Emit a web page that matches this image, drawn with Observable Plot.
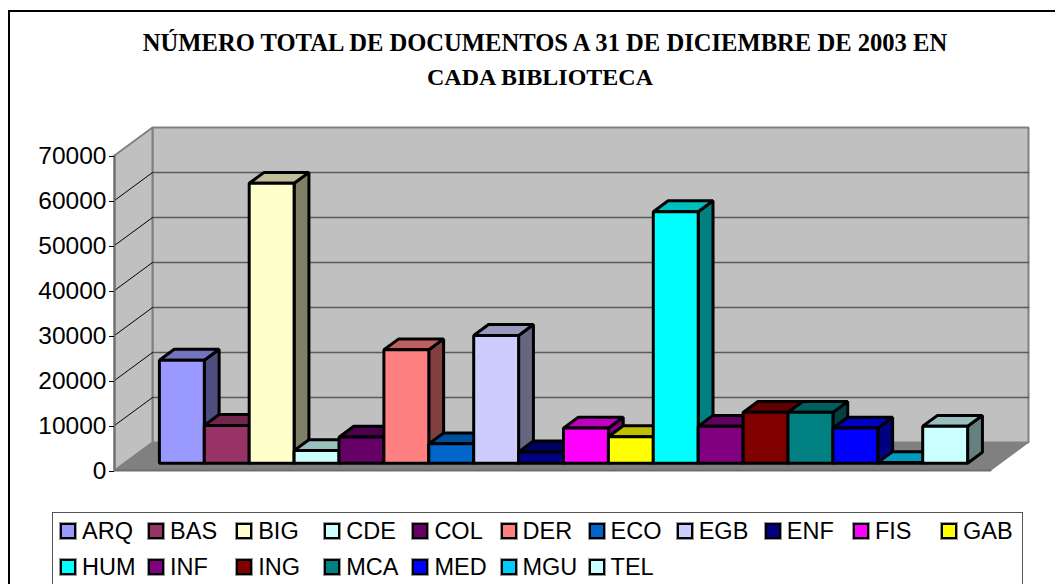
<!DOCTYPE html>
<html><head><meta charset="utf-8">
<script src="https://cdn.jsdelivr.net/npm/d3@7"></script>
<script src="https://cdn.jsdelivr.net/npm/@observablehq/plot@0.6"></script>
<style>
html,body{margin:0;padding:0;background:#fff;overflow:hidden}
#page{position:relative;width:1055px;height:584px;overflow:hidden}
#frame{position:absolute;left:8px;top:10px;width:1100px;height:640px;border:2px solid #000;box-sizing:border-box}
#title{position:absolute;left:75px;width:940px;top:26px;text-align:center;font:bold 24.6px/34px "Liberation Serif",serif;color:#000}
#title span{position:relative;left:-5px;font-size:24px}
#chart{position:absolute;left:0;top:0}
#legend{position:absolute;left:52px;top:512px;width:971px;height:100px;border:1px solid #555;box-sizing:border-box;background:#fff;font:23.5px "Liberation Sans",sans-serif;color:#000}
.it{position:absolute;height:30px;line-height:30px;white-space:nowrap}
.sw{position:absolute;left:0;top:7px;width:16px;height:16px;border:2px solid #000;box-sizing:border-box;outline:1px solid #999}
.lb{position:absolute;left:22px;top:0}
</style></head><body>
<div id="page">
<div id="frame"></div>
<div id="chart"></div>
<div id="title">NÚMERO TOTAL DE DOCUMENTOS A 31 DE DICIEMBRE DE 2003 EN<br><span>CADA BIBLIOTECA</span></div>
<div id="legend"></div>
</div>
<script>
const categories = ["ARQ","BAS","BIG","CDE","COL","DER","ECO","EGB","ENF","FIS","GAB","HUM","INF","ING","MCA","MED","MGU","TEL"];
const documentos = [22900,8400,62200,2800,5800,25200,4300,28400,2500,7800,5900,55900,8200,11300,11300,7800,150,8200];
const colors = ["#9999FF","#993366","#FFFFCC","#CCFFFF","#660066","#FF8080","#0066CC","#CCCCFF","#000080","#FF00FF","#FFFF00","#00FFFF","#800080","#800000","#008080","#0000FF","#00CCFF","#CCFFFF"];
const yTicks = [0,10000,20000,30000,40000,50000,60000,70000];

// oblique projection of the 3-D box: depth 0 = front of floor, depth 1 = back wall
const depthX = 38/44.9, depthY = 6222;
const uMin = -0.78, uMax = 18.73;
const P = (u,v,d) => ({x:u + d*depthX, y:v + d*depthY});
const barFront = 0.26, barBack = 0.65;

const shade = (c,k) => { const r = d3.rgb(c); return d3.rgb(r.r*k,r.g*k,r.b*k).formatHex(); };
const poly = (pts,fill,stroke,strokeWidth) => Plot.line(pts,{x:"x",y:"y",fill,stroke,strokeWidth,curve:"linear-closed",strokeLinejoin:"miter"});

const marks = [
  poly([P(uMin,0,1),P(uMax,0,1),P(uMax,70000,1),P(uMin,70000,1)],"#C0C0C0","#808080",2),
  poly([P(uMin,0,0),P(uMin,0,1),P(uMin,70000,1),P(uMin,70000,0)],"#C0C0C0","#808080",2),
  poly([P(uMin,0,0),P(uMax,0,0),P(uMax,0,1),P(uMin,0,1)],"#808080","#808080",1),
];
for (const t of yTicks.slice(1,-1)) {
  marks.push(Plot.line([P(uMin,t,1),P(uMax,t,1)],{x:"x",y:"y",stroke:"#5A5A5A",strokeWidth:1.5}));
  marks.push(Plot.line([P(uMin,t,0),P(uMin,t,1)],{x:"x",y:"y",stroke:"#000",strokeWidth:1}));
}
marks.push(Plot.line([P(uMin,70000,0),P(uMin,0,0),P(uMax,0,0)],{x:"x",y:"y",stroke:"#6E6E6E",strokeWidth:2}));
categories.forEach((c,i)=>{
  const v = documentos[i], col = colors[i], l=i, r=i+1;
  marks.push(poly([P(r,0,barFront),P(r,0,barBack),P(r,v,barBack),P(r,v,barFront)],shade(col,.5),"#000",3));
  marks.push(poly([P(l,v,barFront),P(r,v,barFront),P(r,v,barBack),P(l,v,barBack)],shade(col,.75),"#000",3));
  marks.push(poly([P(l,0,barFront),P(r,0,barFront),P(r,v,barFront),P(l,v,barFront)],col,"#000",3));
});
marks.push(Plot.axisY({ticks:yTicks,tickFormat:d=>String(d),label:null,tickSize:5,tickPadding:3,fontSize:24.5,fontFamily:"Liberation Sans",color:"#000",textStroke:"none",dy:1}));

const plot = Plot.plot({
  width:1055,height:584,marginLeft:114,marginRight:65,marginTop:155,marginBottom:114,
  style:{background:"transparent",overflow:"visible"},
  x:{domain:[uMin,uMax],axis:null},
  y:{domain:[0,70000],grid:false},
  marks
});
document.getElementById("chart").appendChild(plot);

const lg = document.getElementById("legend");
categories.forEach((c,i)=>{
  const d=document.createElement("div");d.className="it";
  d.style.left=(7+(i%11)*88.1)+"px";d.style.top=(3+Math.floor(i/11)*35.7)+"px";
  d.innerHTML=`<span class="sw" style="background:${colors[i]}"></span><span class="lb">${c}</span>`;
  lg.appendChild(d);
});
</script>
</body></html>
